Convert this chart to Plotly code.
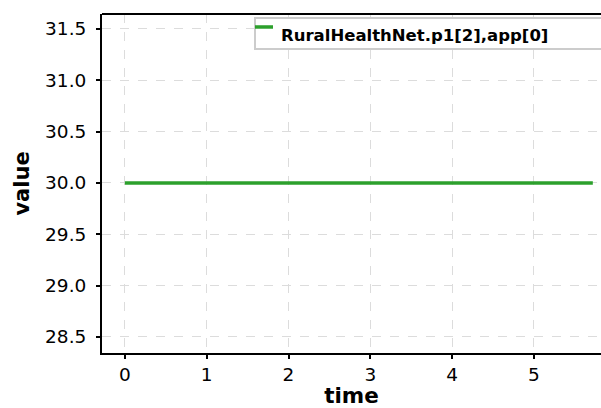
import plotly.graph_objects as go

time = [0.0, 5.72]
values = [30.0, 30.0]
series_name = "RuralHealthNet.p1[2],app[0]"
x_ticks = [0, 1, 2, 3, 4, 5]
y_ticks = [28.5, 29.0, 29.5, 30.0, 30.5, 31.0, 31.5]

line_color = "#2ca02c"
font_family = "DejaVu Sans"

fig = go.Figure()
fig.add_trace(go.Scatter(x=time, y=values, mode="lines", name=series_name,
                         line=dict(color=line_color, width=3.5), showlegend=False))

fig.update_layout(
    width=601, height=408,
    margin=dict(l=102, r=0, t=14, b=55),
    paper_bgcolor="white", plot_bgcolor="white",
    font=dict(family=font_family, color="black"),
    showlegend=False,
)
fig.update_xaxes(
    range=[-0.28, 5.82], tickvals=x_ticks, ticktext=[str(v) for v in x_ticks],
    showline=True, linecolor="black", linewidth=2, mirror=False,
    ticks="outside", ticklen=4, tickwidth=1.5, tickcolor="black",
    tickfont=dict(size=18.5),
    showgrid=True, gridcolor="#dcdcdc", griddash="dash", gridwidth=1.2,
    zeroline=False,
    title=dict(text="time", font=dict(size=21.5, weight="bold"), standoff=6),
)
fig.update_yaxes(
    range=[28.344, 31.646], tickvals=y_ticks, ticktext=[f"{v:.1f}" for v in y_ticks],
    showline=True, linecolor="black", linewidth=2,
    ticks="outside", ticklen=4, tickwidth=1.5, tickcolor="black",
    tickfont=dict(size=18.5), ticklabelstandoff=6,
    showgrid=True, gridcolor="#dcdcdc", griddash="dash", gridwidth=1.2,
    zeroline=False,
    title=dict(text="value", font=dict(size=21, weight="bold"), standoff=10),
)
# top border line
fig.add_shape(type="line", xref="paper", yref="paper", x0=0, x1=1, y0=1, y1=1,
              line=dict(color="black", width=2))

# custom legend box (matplotlib-style)
fig.add_shape(type="rect", xref="paper", yref="paper", x0=0.3066, x1=1.02,
              y0=0.8968, y1=0.9882, fillcolor="white",
              line=dict(color="#cccccc", width=2), layer="above")
fig.add_shape(type="line", xref="paper", yref="paper", x0=0.3066, x1=0.3427,
              y0=0.9617, y1=0.9617, line=dict(color=line_color, width=3.5), layer="above")
fig.add_annotation(xref="paper", yref="paper", x=0.3547, y=0.938, xanchor="left",
                   yanchor="middle", showarrow=False, text=series_name,
                   font=dict(family="DejaVu Sans", size=16.5, weight="bold", color="black"))

fig.write_html("out.html")
